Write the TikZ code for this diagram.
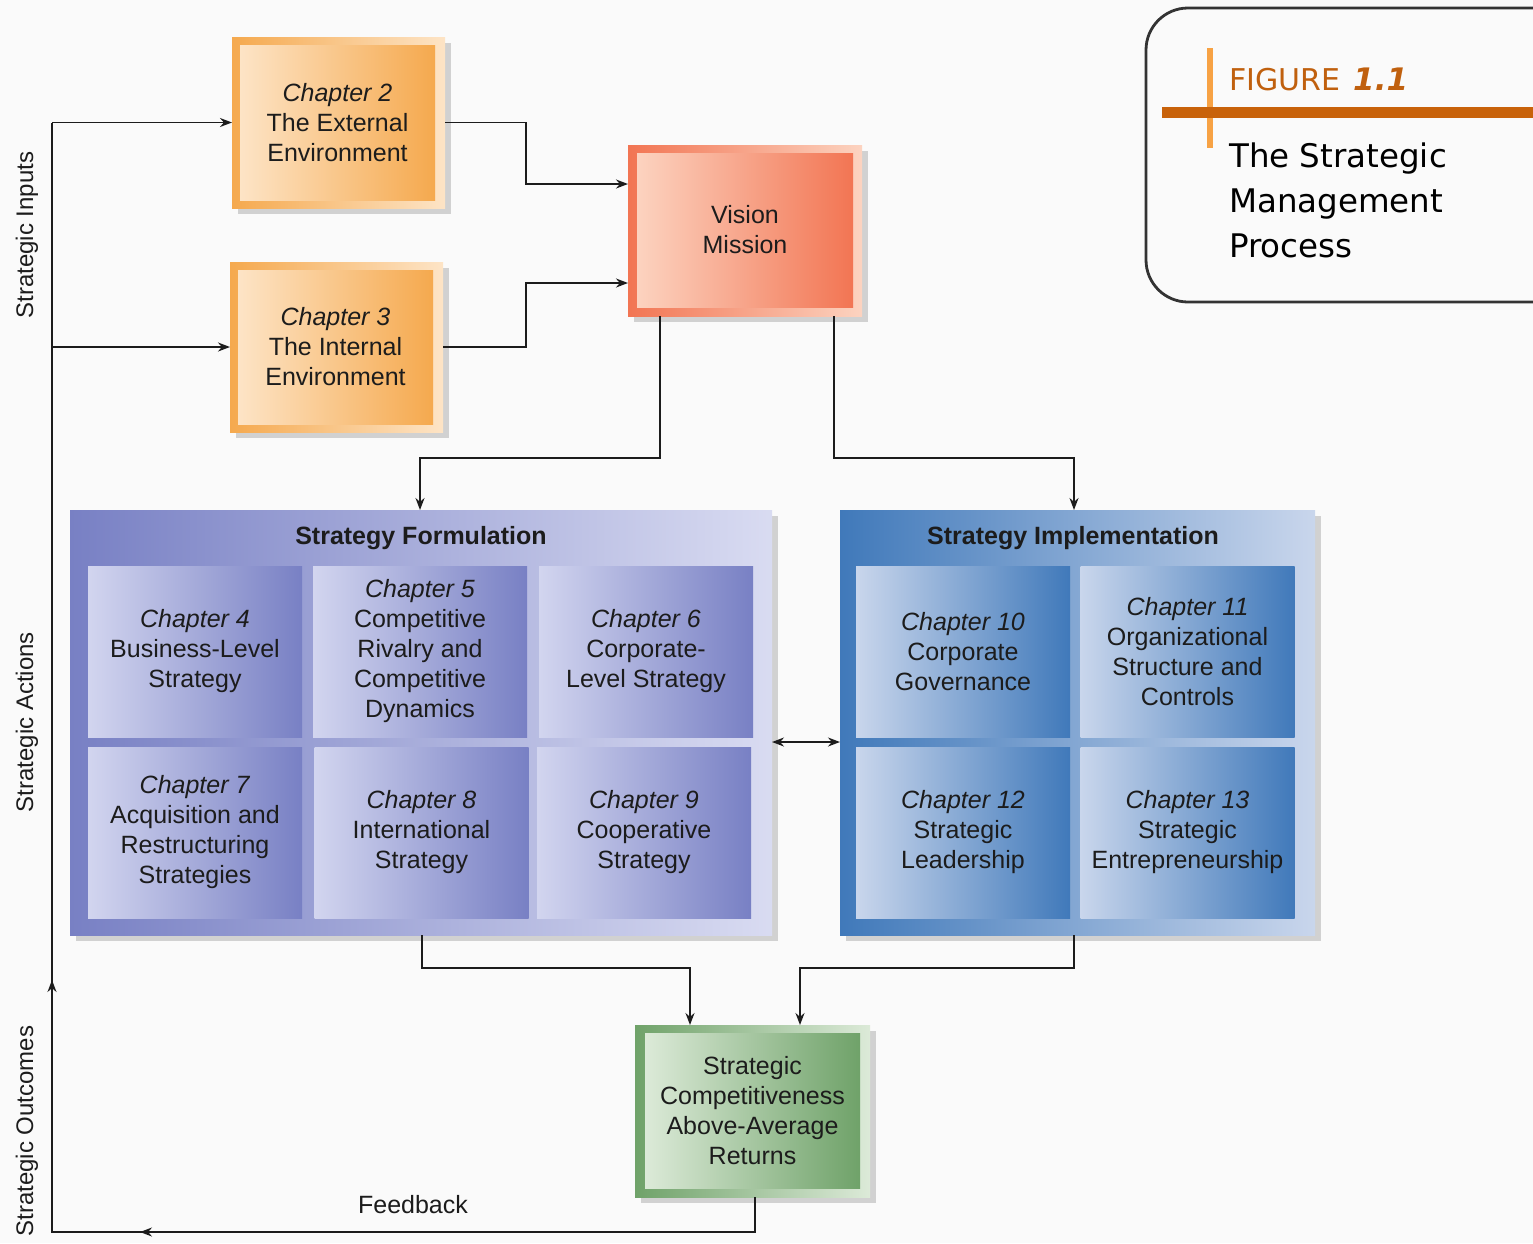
\documentclass[tikz,border=0pt]{standalone}
\usepackage{fontspec}
\setmainfont{Liberation Sans}
\newfontfamily\figfont{DejaVu Sans}
\usetikzlibrary{arrows.meta,shadows}

\definecolor{ink}{HTML}{1C1C1C}
\definecolor{orDark}{HTML}{F5A94E}
\definecolor{orLight}{HTML}{FDE4C6}
\definecolor{vmDark}{HTML}{F27553}
\definecolor{vmLight}{HTML}{FCD3C0}
\definecolor{sfDark}{HTML}{7880C4}
\definecolor{sfLight}{HTML}{D2D5EF}
\definecolor{siDark}{HTML}{4079BA}
\definecolor{siLight}{HTML}{C9D6EC}
\definecolor{grDark}{HTML}{6FA269}
\definecolor{grLight}{HTML}{DCEAD8}
\definecolor{figBar}{HTML}{C8620A}
\definecolor{figLine}{HTML}{F7A244}
\definecolor{figText}{HTML}{C0600E}

\begin{document}
\begin{tikzpicture}[x=1pt,y=-1pt,
  panel/.style={rectangle, inner sep=0pt, outer sep=0pt, draw=none},
  shadowed/.style={drop shadow={shadow xshift=6pt, shadow yshift=-6pt, fill=black, opacity=0.16}},
  txt/.style={font=\fontsize{25}{30}\selectfont, text=ink, align=center},
  wire/.style={line width=1.8pt, draw=ink},
  arr/.style={wire, -{Stealth[length=12pt,width=9pt]}},
  dblarr/.style={wire, {Stealth[length=12pt,width=9pt]}-{Stealth[length=12pt,width=9pt]}},
  cellF/.style={panel, txt, left color=sfLight, right color=sfDark, minimum width=214, minimum height=171},
  cellI/.style={panel, txt, left color=siLight, right color=siDark, minimum width=214, minimum height=171},
  side/.style={font=\fontsize{24}{28}\selectfont, text=ink, rotate=90}
]
\useasboundingbox (0,0) rectangle (1533,1243);
\fill[white!98!black] (0,0) rectangle (1533,1243);

% ---- Figure caption box ----
\draw[line width=2.8pt, draw=ink!90, rounded corners=42pt] (1540,8) -- (1146,8) -- (1146,302) -- (1540,302);
\fill[figLine] (1207,48) rectangle (1213,148);
\fill[figBar] (1162,107) rectangle (1533,118);
\node[anchor=base west, inner sep=0pt, text=figText, font=\figfont\fontsize{30}{36}\selectfont] (figlbl) at (1229,90) {FIGURE};
\node[anchor=base west, inner sep=0pt, text=figText, font=\figfont\fontsize{31}{36}\selectfont\bfseries\itshape] (fignum) at (1353,90) {1.1};
\node[anchor=north west, inner sep=0pt, align=left, text=black, font=\figfont\fontsize{32.5}{45}\selectfont] (figtitle) at (1229,143) {The Strategic\\Management\\Process};

% ---- Side labels ----
\node[side] (lin) at (27,235) {Strategic Inputs};
\node[side] (lact) at (27,722) {Strategic Actions};
\node[side] (lout) at (27,1131) {Strategic Outcomes};

% ---- Environment boxes ----
\node[panel, shadowed, left color=orDark, right color=orLight, minimum width=213, minimum height=171] (c2) at (338.5,122.5) {};
\node[panel, txt, left color=orLight, right color=orDark, minimum width=195, minimum height=155] (c2i) at (337.5,122.5) {\textit{Chapter 2}\\The External\\Environment};

\node[panel, shadowed, left color=orDark, right color=orLight, minimum width=213, minimum height=170] (c3) at (336.5,347) {};
\node[panel, txt, left color=orLight, right color=orDark, minimum width=195, minimum height=154] (c3i) at (335.5,347) {\textit{Chapter 3}\\The Internal\\Environment};

% ---- Vision / Mission ----
\node[panel, shadowed, left color=vmDark, right color=vmLight, minimum width=234, minimum height=171] (vm) at (745,230.5) {};
\node[panel, txt, left color=vmLight, right color=vmDark, minimum width=216, minimum height=154] (vmi) at (745,230) {Vision\\Mission};

% ---- Strategy Formulation ----
\node[panel, shadowed, left color=sfDark, right color=sfLight!85!white, minimum width=702, minimum height=425] (sf) at (421,722.5) {};
\node[txt, font=\fontsize{25}{30}\selectfont\bfseries] (sft) at (421,538) {Strategy Formulation};
\node[cellF] (ch4) at (195,651.5) {\textit{Chapter 4}\\Business-Level\\Strategy};
\node[cellF] (ch5) at (420,651.5) {\textit{Chapter 5}\\Competitive\\Rivalry and\\Competitive\\Dynamics};
\node[cellF] (ch6) at (646,651.5) {\textit{Chapter 6}\\Corporate-\\Level Strategy};
\node[cellF] (ch7) at (195,832.5) {\textit{Chapter 7}\\Acquisition and\\Restructuring\\Strategies};
\node[cellF] (ch8) at (421.5,832.5) {\textit{Chapter 8}\\International\\Strategy};
\node[cellF] (ch9) at (644,832.5) {\textit{Chapter 9}\\Cooperative\\Strategy};

% ---- Strategy Implementation ----
\node[panel, shadowed, left color=siDark, right color=siLight, minimum width=475, minimum height=425] (si) at (1077.5,722.5) {};
\node[txt, font=\fontsize{25}{30}\selectfont\bfseries] (sit) at (1073,538) {Strategy Implementation};
\node[cellI] (ch10) at (963,651.5) {\textit{Chapter 10}\\Corporate\\Governance};
\node[cellI] (ch11) at (1187.5,651.5) {\textit{Chapter 11}\\Organizational\\Structure and\\Controls};
\node[cellI] (ch12) at (963,832.5) {\textit{Chapter 12}\\Strategic\\Leadership};
\node[cellI] (ch13) at (1187.5,832.5) {\textit{Chapter 13}\\Strategic\\Entrepreneurship};

% ---- Outcomes ----
\node[panel, shadowed, left color=grDark, right color=grLight, minimum width=235, minimum height=172] (gr) at (752.5,1111) {};
\node[panel, txt, left color=grLight, right color=grDark, minimum width=215, minimum height=155] (gri) at (752.5,1110.5) {Strategic\\Competitiveness\\Above-Average\\Returns};

% ---- Routing points ----
\coordinate (y184) at (0,184);
\coordinate (y283) at (0,283);
\coordinate (x660) at (660,0);
\coordinate (x834) at (834,0);
\coordinate (x420) at (420,0);
\coordinate (x1074) at (1074,0);
\coordinate (x422) at (422,0);
\coordinate (x690) at (690,0);
\coordinate (x800) at (800,0);
\coordinate (y742) at (0,742);
\coordinate (fbA) at (755,1232);
\coordinate (fbB) at (52,1232);
\coordinate (fbMid) at (140,1232);
\coordinate (fbUp) at (52,980);
\coordinate (fbTop) at (52,122.5);
\coordinate (fbC3) at (52,347);

% ---- Connectors ----
\draw[arr] (c2.east) -- (526,122.5) -- (526,184) -- (vm.west |- y184);
\draw[arr] (c3.east) -- (526,347) -- (526,283) -- (vm.west |- y283);
\draw[arr] (vm.south -| x660) -- (660,458) -- (420,458) -- (sf.north -| x420);
\draw[arr] (vm.south -| x834) -- (834,458) -- (1074,458) -- (si.north -| x1074);
\draw[dblarr] (sf.east |- y742) -- (si.west |- y742);
\draw[arr] (sf.south -| x422) -- (422,968) -- (690,968) -- (gr.north -| x690);
\draw[arr] (si.south -| x1074) -- (1074,968) -- (800,968) -- (gr.north -| x800);

% feedback loop back to the inputs
\draw[wire] (gr.south -| fbA) -- (fbA) -- (fbB) -- (fbTop);
\draw[arr] (fbTop) -- (c2.west);
\draw[arr] (fbC3) -- (c3.west);
\draw[arr] (fbA) -- (fbMid);
\draw[arr] (fbB) -- (fbUp);
\node[txt] (fbl) at (413,1205) {Feedback};
\end{tikzpicture}
\end{document}
